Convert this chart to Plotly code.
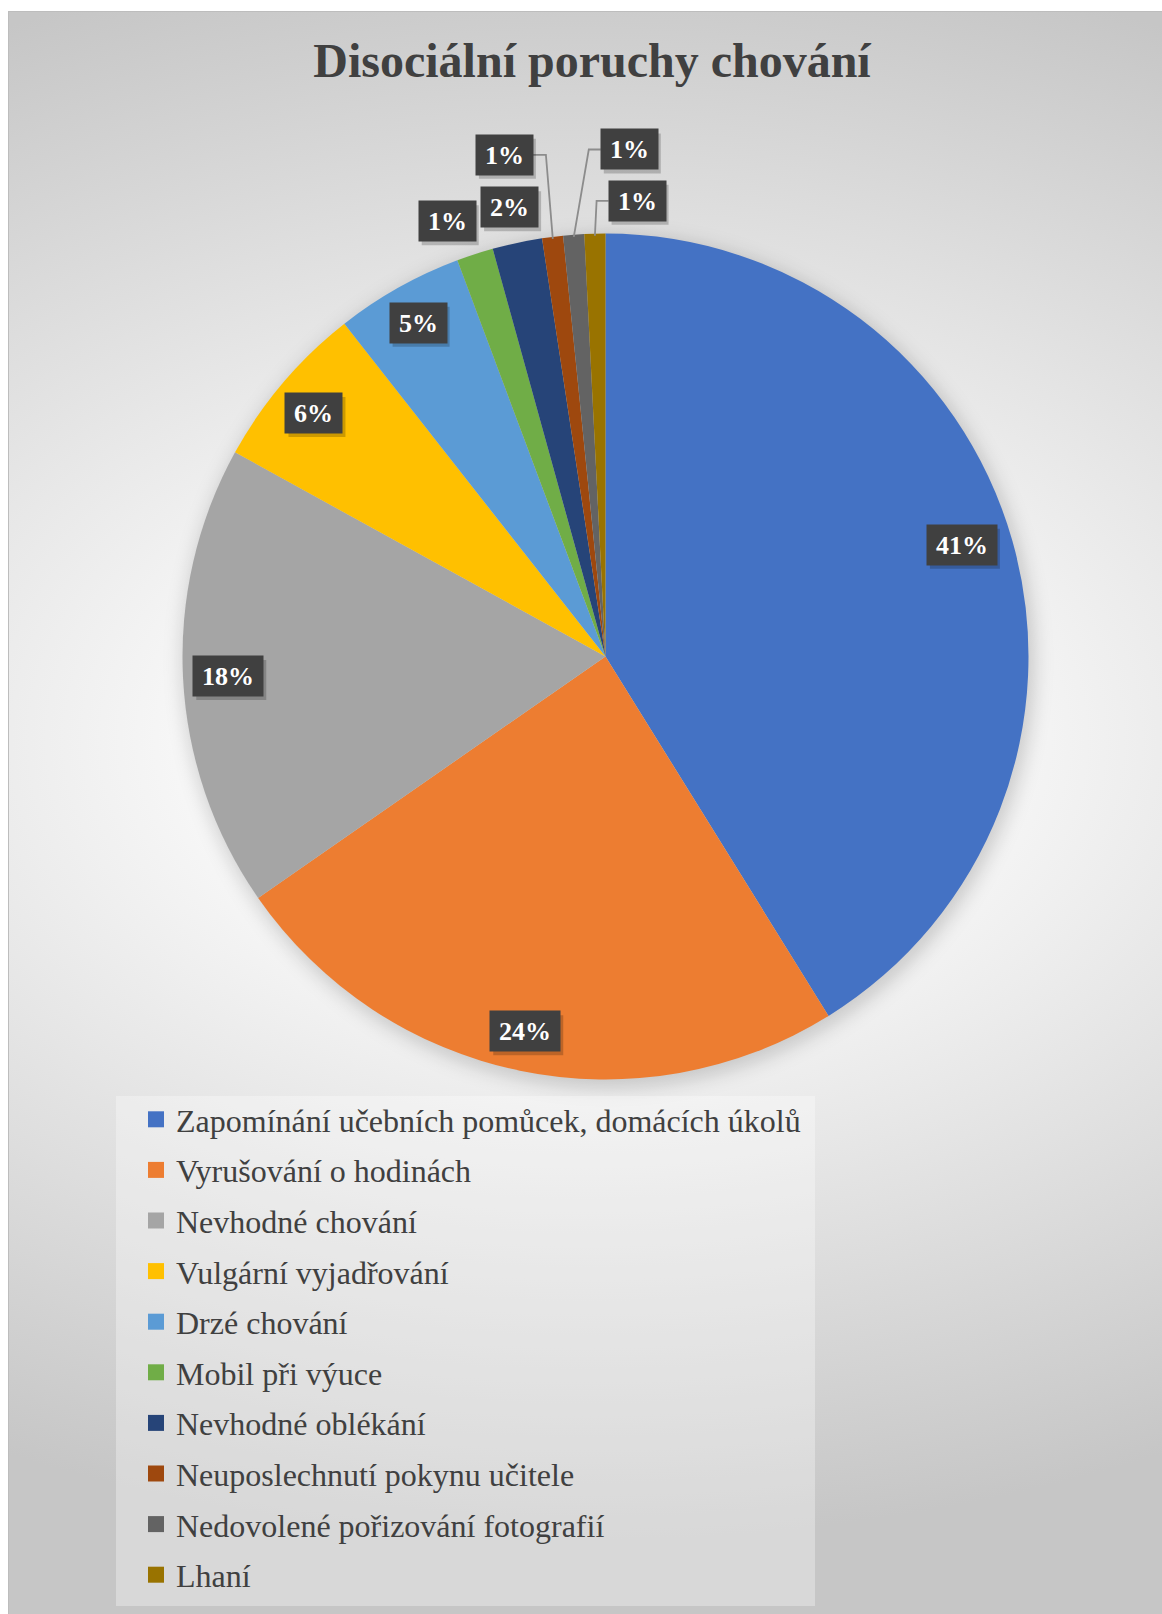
import base64
import math

import plotly.graph_objects as go

# ---- data -----------------------------------------------------------------
categories = [
    "Zapomínání učebních pomůcek, domácích úkolů",
    "Vyrušování o hodinách",
    "Nevhodné chování",
    "Vulgární vyjadřování",
    "Drzé chování",
    "Mobil při výuce",
    "Nevhodné oblékání",
    "Neuposlechnutí pokynu učitele",
    "Nedovolené pořizování fotografií",
    "Lhaní",
]
shares = [41.2, 24.2, 17.7, 6.4, 4.9, 1.4, 1.9, 0.8, 0.8, 0.8]

# ---- styling ----------------------------------------------------------------
W, H = 1162, 1614
CX, CY, R = 605.5, 656.5, 423.0          # pie centre / radius in px
slice_colors = ["#4472C4", "#ED7D31", "#A5A5A5", "#FFC000", "#5B9BD5",
                "#70AD47", "#264478", "#9E480E", "#636363", "#997300"]
SERIF = "Liberation Serif"
TEXT_DARK = "#404040"

# label placement per slice: radial factor and angular nudge (degrees)
label_rfac = [0.883, 0.906, 0.893, 0.898, 0.905, 1.095, 1.086, 1.21, 1.20, 1.08]
label_dtheta = [-1.5, 0.4, 0.0, -0.5, 0.0, -2.0, 0.0, -4.2, 7.0, 5.4]
with_leader = [False] * 7 + [True, True, True]


# ---- background (gradient, pie shadow, legend panel) ----------------------
svg = f"""<svg xmlns="http://www.w3.org/2000/svg" width="{W}" height="{H}" viewBox="0 0 {W} {H}">
<defs>
<radialGradient id="g" gradientUnits="userSpaceOnUse" cx="585" cy="740" r="800"
 gradientTransform="translate(585 740) scale(1.6 1) translate(-585 -740)">
<stop offset="0" stop-color="#ffffff"/><stop offset="0.25" stop-color="#fbfbfb"/>
<stop offset="1" stop-color="#c6c6c6"/>
</radialGradient>
<filter id="b" x="-30%" y="-30%" width="160%" height="160%"><feGaussianBlur stdDeviation="9"/></filter>
</defs>
<rect width="{W}" height="{H}" fill="#ffffff"/>
<rect x="8.5" y="11.5" width="{W}" height="{H}" fill="url(#g)" stroke="#bdbdbd" stroke-width="1"/>
<circle cx="{CX + 3}" cy="{CY + 5}" r="{R + 4}" fill="#000" fill-opacity="0.16" filter="url(#b)"/>
<rect x="116" y="1096" width="699" height="510" fill="#ffffff" fill-opacity="0.32"/>
</svg>"""
bg_src = "data:image/svg+xml;base64," + base64.b64encode(svg.encode("utf-8")).decode()

fig = go.Figure()

fig.add_trace(go.Pie(
    values=shares,
    labels=categories,
    marker=dict(colors=slice_colors, line=dict(width=0)),
    sort=False,
    direction="clockwise",
    rotation=0,
    textinfo="none",
    showlegend=False,
    hoverinfo="label+percent",
    domain=dict(x=[(CX - R) / W, (CX + R) / W],
                y=[1 - (CY + R) / H, 1 - (CY - R) / H]),
))

# legend entries with square swatches
for name, col in zip(categories, slice_colors):
    fig.add_trace(go.Scatter(
        x=[None], y=[None], mode="markers", name=name, legendgroup=name,
        marker=dict(symbol="square", size=16, color=col),
        hoverinfo="skip", showlegend=True,
    ))

# ---- percentage labels ------------------------------------------------------
total = sum(shares)
annotations = []
shapes = []
cum = 0.0
for i, v in enumerate(shares):
    a0 = cum / total * 360
    cum += v
    a1 = cum / total * 360
    mid = (a0 + a1) / 2
    pct = f"{round(v / total * 100)}%"
    th = math.radians(mid + label_dtheta[i])
    lx = CX + label_rfac[i] * R * math.sin(th)
    ly = CY - label_rfac[i] * R * math.cos(th)
    bw = 57 if len(pct) == 2 else 70
    bh = 40

    if with_leader[i]:
        tm = math.radians(mid)
        px = CX + 0.995 * R * math.sin(tm)
        py = CY - 0.995 * R * math.cos(tm)
        if lx > px:
            edge = lx - bw / 2
            elbow = edge - 12
        else:
            edge = lx + bw / 2
            elbow = edge + 13
        shapes.append(dict(
            type="path", xref="x", yref="y",
            path=f"M{px:.1f},{py:.1f} L{elbow:.1f},{ly:.1f} L{edge:.1f},{ly:.1f}",
            line=dict(color="#8c8c8c", width=1.8),
        ))

    # soft drop shadow behind the box
    shapes.append(dict(
        type="rect", xref="x", yref="y",
        x0=lx - bw / 2 + 3, x1=lx + bw / 2 + 3, y0=ly - bh / 2 + 4, y1=ly + bh / 2 + 4,
        fillcolor="rgba(0,0,0,0.2)", line=dict(width=0),
    ))
    annotations.append(dict(
        x=lx, y=ly, xref="x", yref="y", text=f"<b>{pct}</b>", showarrow=False,
        width=bw, height=bh, borderpad=0, bgcolor="#404040",
        align="center", valign="middle",
        font=dict(family=SERIF, size=26, color="#ffffff"),
    ))

fig.update_layout(
    width=W, height=H, autosize=False,
    margin=dict(l=0, r=0, t=0, b=0),
    paper_bgcolor="#ffffff", plot_bgcolor="rgba(0,0,0,0)",
    font=dict(family=SERIF, color=TEXT_DARK),
    title=dict(text="<b>Disociální poruchy chování</b>", x=592 / W, xanchor="center",
               y=1 - 60 / H, yanchor="middle",
               font=dict(family=SERIF, size=48, color=TEXT_DARK)),
    xaxis=dict(range=[0, W], visible=False, domain=[0, 1], fixedrange=True),
    yaxis=dict(range=[H, 0], visible=False, domain=[0, 1], fixedrange=True),
    legend=dict(x=136 / W, y=1 - 1092 / H, xanchor="left", yanchor="top",
                bgcolor="rgba(0,0,0,0)", tracegroupgap=6, itemsizing="trace",
                traceorder="grouped",
                font=dict(family=SERIF, size=32, color=TEXT_DARK)),
    images=[dict(source=bg_src, xref="paper", yref="paper", x=0, y=1,
                 sizex=1, sizey=1, sizing="stretch", layer="below")],
    shapes=shapes,
    annotations=annotations,
)

fig.write_html("out.html")
